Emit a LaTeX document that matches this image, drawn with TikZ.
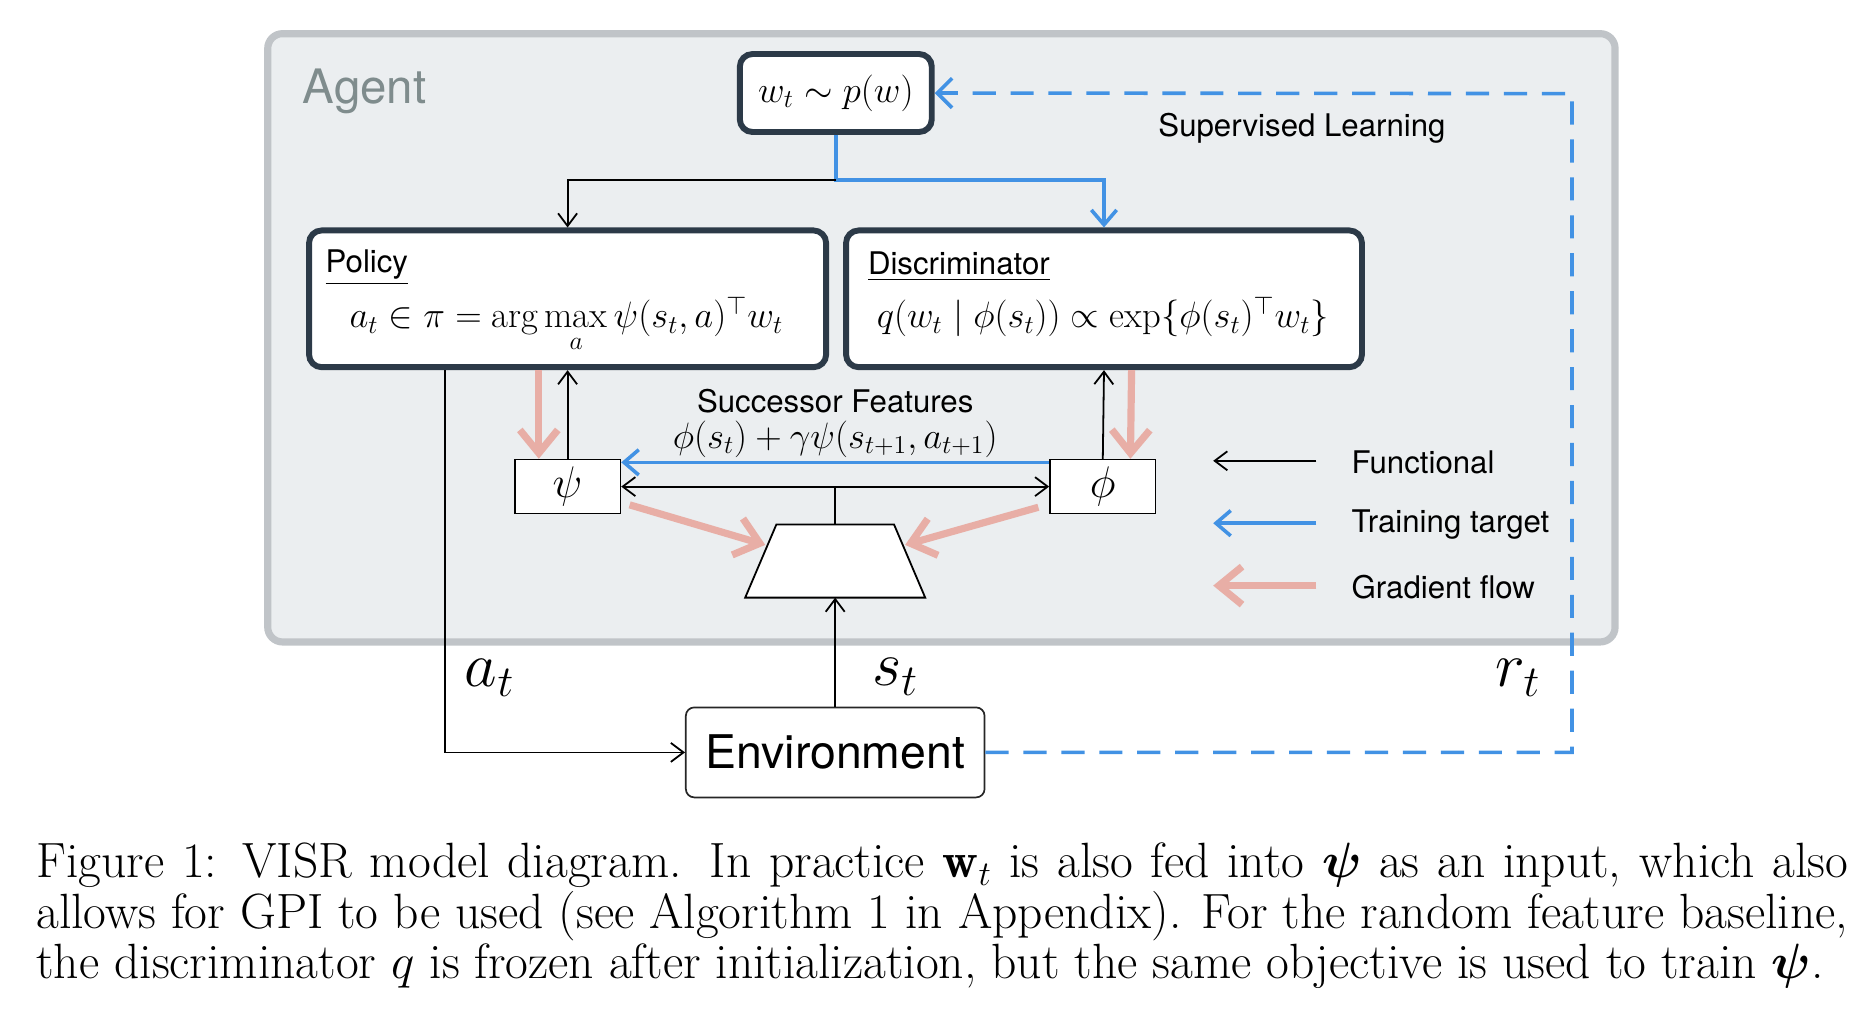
\documentclass[tikz,border=0pt]{standalone}
\usepackage{fix-cm}
\usepackage{amsmath,amssymb,bm}
\usepackage{fontspec}
\setsansfont{TeX Gyre Heros}
\usetikzlibrary{arrows.meta,calc}
\definecolor{agentfill}{RGB}{235,238,240}
\definecolor{agentborder}{RGB}{192,196,200}
\definecolor{agenttext}{RGB}{127,140,141}
\definecolor{darkb}{RGB}{44,58,72}
\definecolor{tblue}{RGB}{66,146,228}
\definecolor{gpink}{RGB}{232,174,166}
\tikzset{
  agentbox/.style={draw=agentborder, fill=agentfill, line width=3.4pt, rounded corners=7pt},
  bigbox/.style={draw=darkb, fill=white, line width=2.8pt, rounded corners=6pt},
  smallbox/.style={draw=black, fill=white, line width=0.8pt},
  envbox/.style={draw=black!85, fill=white, line width=0.8pt, rounded corners=4pt},
  func/.style={draw=black, line width=0.85pt, -{Straight Barb[length=6pt,width=9pt]}},
  funcboth/.style={draw=black, line width=0.85pt, {Straight Barb[length=6pt,width=9pt]}-{Straight Barb[length=6pt,width=9pt]}},
  plain/.style={draw=black, line width=0.85pt},
  train/.style={draw=tblue, line width=1.7pt, -{Straight Barb[length=7pt,width=12pt]}},
  supdash/.style={draw=tblue, line width=1.7pt, dash pattern=on 11pt off 7pt, -{Straight Barb[length=7pt,width=14pt]}},
  grad/.style={draw=gpink, line width=3.4pt, -{Straight Barb[length=11pt,width=18pt]}},
  sflabel/.style={font=\sffamily\fontsize{14.8}{18}\selectfont, inner sep=0pt},
  mathlabel/.style={font=\fontsize{17.4}{20}\selectfont, inner sep=0pt},
  biglabel/.style={font=\fontsize{30}{34}\selectfont, inner sep=0pt},
}
\begin{document}
\begin{tikzpicture}[x=0.02cm, y=-0.02cm]
\useasboundingbox (0,0) rectangle (1560,840);
% agent frame
\node[agentbox, minimum width=22.46cm, minimum height=10.14cm] (agent) at (784.5,281.5) {};
\node[anchor=west, inner sep=0pt, text=agenttext, font=\sffamily\fontsize{22.5}{26}\selectfont] (agentlbl) at (252,76) {Agent};
% boxes
\node[bigbox, minimum width=3.2cm, minimum height=1.3cm, font=\fontsize{17.4}{20}\selectfont] (wbox) at (696.5,77.5) {$w_t \sim p(w)$};
\node[bigbox, minimum width=8.62cm, minimum height=2.28cm] (policy) at (473,249) {};
\node[bigbox, minimum width=8.6cm, minimum height=2.28cm] (disc) at (920,249) {};
\node[sflabel, anchor=west] (poltitle) at (271,223) {\underline{Policy}};
\node[mathlabel, anchor=base] (polform) at (472,273) {$a_t \in \pi = \arg\max\limits_a \psi(s_t,a)^\top w_t$};
\node[sflabel, anchor=west] (disctitle) at (723,222) {\underline{Discriminator}};
\node[mathlabel, anchor=base] (discform) at (919,273) {$q(w_t \mid \phi(s_t)) \propto \exp\{\phi(s_t)^\top w_t\}$};
\node[smallbox, minimum width=1.76cm, minimum height=0.9cm, font=\fontsize{21}{24}\selectfont] (psi) at (473,405.5) {$\psi$};
\node[smallbox, minimum width=1.76cm, minimum height=0.9cm, font=\fontsize{21}{24}\selectfont] (phi) at (919,405.5) {$\phi$};
% encoder trapezoid
\coordinate (etl) at (647,437); \coordinate (etr) at (745,437);
\coordinate (ebr) at (771,498); \coordinate (ebl) at (621,498);
\coordinate (etop) at (696,437); \coordinate (ebot) at (696,498);
\draw[draw=black, fill=white, line width=0.85pt] (etl) -- (etr) -- (ebr) -- (ebl) -- cycle;
\node[envbox, minimum width=4.98cm, minimum height=1.5cm, font=\sffamily\fontsize{22}{26}\selectfont] (env) at (696,627) {Environment};
% texts
\node[sflabel] (suplbl) at (1085,107) {Supervised Learning};
\node[sflabel] (sflbl) at (696,334) {Successor Features};
\node[mathlabel] (sfform) at (696,366) {$\phi(s_t) + \gamma\psi(s_{t+1}, a_{t+1})$};
\node[biglabel] (atlbl) at (408,565) {$a_t$};
\node[biglabel] (stlbl) at (746,564) {$s_t$};
\node[biglabel] (rtlbl) at (1265,565) {$r_t$};
% connectors top
\coordinate (j) at (696.5,150);
\draw[train] (wbox.south) |- (j -| disc.north) -- (disc.north);
\draw[func] (j) -| (policy.north);
% policy / psi
\draw[func] (psi.north) -- (policy.south);
\draw[grad] ($(policy.south)+(-24,0)$) -- ($(psi.north)+(-24,0)$);
\draw[func] (phi.north) -- (disc.south);
\draw[grad] ($(disc.south)+(23,0)$) -- ($(phi.north)+(23,0)$);
% successor target
\draw[train] ($(phi.north west)+(0,3)$) -- ($(psi.north east)+(0,3)$);
\draw[funcboth] (psi.east) -- (phi.west);
\draw[plain] ($(psi.east)!0.5!(phi.west)$) -- (etop);
\draw[grad] ($(psi.south east)+(7,-8)$) -- ($(etl)!0.28!(ebl)+(-2,0)$);
\draw[grad] ($(phi.south west)+(-9,-6)$) -- ($(etr)!0.28!(ebr)+(2,0)$);
% environment
\draw[func] (env.north) -- (ebot);
\draw[func] ($(policy.south west)+(116,0)$) |- (env.west);
\coordinate (rc) at (1310,78);
\draw[supdash] (env.east) -| (rc) -- (wbox.east);
% legend
\coordinate (l1a) at (1097,384); \coordinate (l1b) at (1011,384);
\coordinate (l2a) at (1097,436); \coordinate (l2b) at (1011,436);
\coordinate (l3a) at (1097,488); \coordinate (l3b) at (1011,488);
\draw[func] (l1a) -- (l1b);
\draw[train] (l2a) -- (l2b);
\draw[grad] (l3a) -- (l3b);
\node[sflabel, anchor=west] (lg1) at (1126,385) {Functional};
\node[sflabel, anchor=west] (lg2) at (1126,437) {Training target};
\node[sflabel, anchor=west] (lg3) at (1126,489) {Gradient flow};
% caption
\node[anchor=north west, inner sep=0pt, align=left, font=\fontsize{23.5}{23.9}\selectfont] (cap) at (30,702) {\makebox[30.2cm][s]{Figure 1: VISR model diagram. In practice $\mathbf{w}_t$ is also fed into $\boldsymbol{\psi}$ as an input, which also}\\ \makebox[30.2cm][s]{allows for GPI to be used (see Algorithm 1 in Appendix). For the random feature baseline,}\\ the discriminator $q$ is frozen after initialization, but the same objective is used to train $\boldsymbol{\psi}$.};
\end{tikzpicture}
\end{document}
